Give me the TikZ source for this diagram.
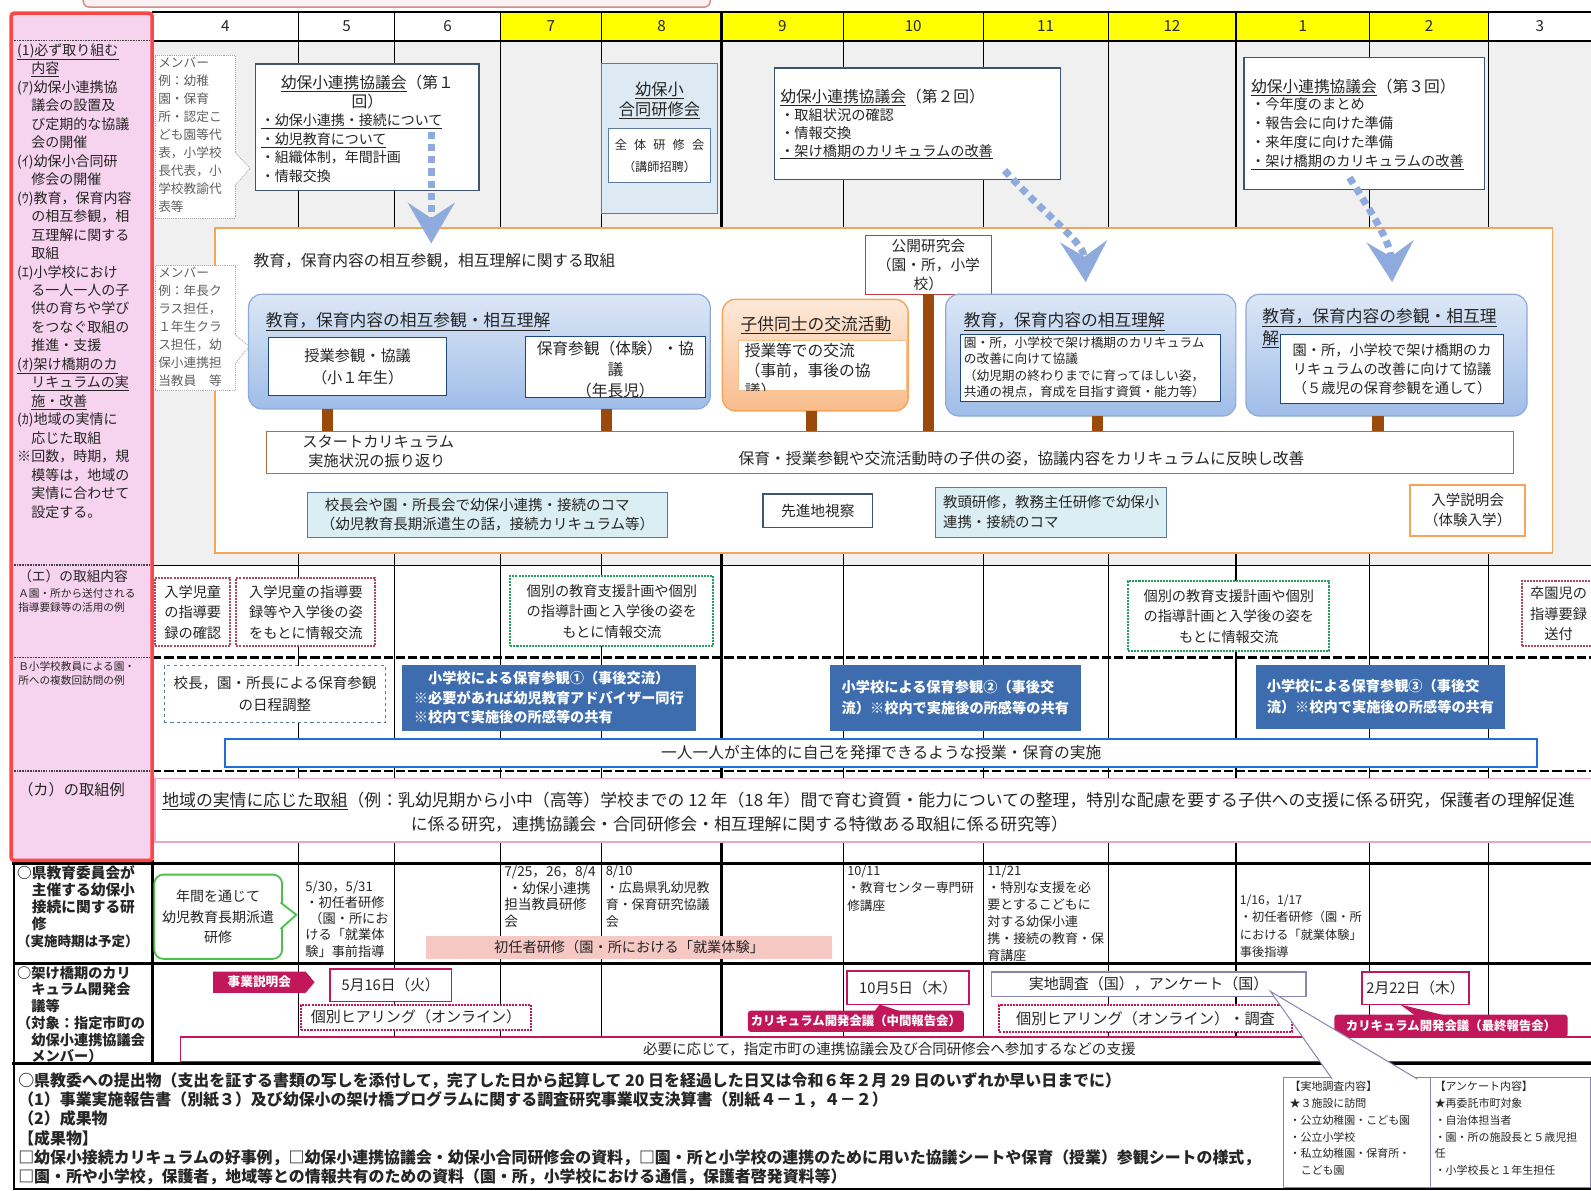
\documentclass[tikz,border=0pt]{standalone}
\usepackage{fontspec}
\setmainfont{Noto Sans CJK JP}
\usetikzlibrary{arrows.meta, fit, shapes.symbols}
\newcommand\fsz[2]{\fontsize{#1}{#2}\selectfont}
\definecolor{ink}{HTML}{262626}
\definecolor{cellgrey}{HTML}{F0F0F0}
\definecolor{headyel}{HTML}{FFFF00}
\definecolor{frame}{HTML}{FF4545}
\definecolor{lcol}{HTML}{F6D3EF}
\definecolor{slate}{HTML}{3E5572}
\definecolor{arrowblue}{HTML}{8FAADC}
\definecolor{orng}{HTML}{F5A55A}
\definecolor{bluetop}{HTML}{DCE7F6}
\definecolor{bluebot}{HTML}{9FBDE8}
\definecolor{blueline}{HTML}{8EAADB}
\definecolor{navy}{HTML}{1F497D}
\definecolor{peachtop}{HTML}{FDE9D9}
\definecolor{peachbot}{HTML}{F9BC8C}
\definecolor{barbrown}{HTML}{9C4A0C}
\definecolor{paleblue}{HTML}{DBEEF4}
\definecolor{gokanfill}{HTML}{DDE9F3}
\definecolor{steel}{HTML}{5B7A9C}
\definecolor{dotred}{HTML}{B04A5A}
\definecolor{dotgreen}{HTML}{22A05A}
\definecolor{deepblue}{HTML}{3D6DAE}
\definecolor{brightblue}{HTML}{1C6FDC}
\definecolor{pinkline}{HTML}{E8A6CB}
\definecolor{mag}{HTML}{C2185B}
\definecolor{salmon}{HTML}{F6C8C4}
\definecolor{callgreen}{HTML}{4CC24C}
\definecolor{lilac}{HTML}{8A84B0}
\definecolor{toppink}{HTML}{D98A8A}

\begin{document}
\begin{tikzpicture}[x=1pt, y=-1pt,
  every node/.append style={text=ink},
  cell/.style={inner sep=0pt, outer sep=0pt},
  txt/.style={cell},
  boxtext/.style={cell, align=center},
  memb/.style={cell, draw=gray!65, densely dotted, line width=0.9pt, fill=white},
  kbox/.style={cell, draw=slate, line width=1.3pt, fill=white},
  rbox/.style={cell, rounded corners=13pt, draw=blueline, line width=1.2pt,
               top color=bluetop, bottom color=bluebot},
  ibox/.style={cell, draw=navy, line width=1.1pt, fill=white},
  pbox/.style={cell, draw=steel, line width=0.9pt, fill=paleblue},
  redot/.style={cell, draw=dotred, densely dotted, line width=2pt, fill=white},
  grdot/.style={cell, draw=dotgreen, densely dotted, line width=2pt, fill=white},
  dbox/.style={cell, fill=deepblue},
  dtext/.style={cell, align=left, text=white, font=\bfseries\fsz{14}{20}},
  magbox/.style={cell, draw=mag, line width=1.8pt, fill=white},
  magdot/.style={cell, draw=mag, densely dotted, line width=2pt, fill=white},
  tagbox/.style={cell, fill=mag, rounded corners=3pt},
  tagtext/.style={cell, text=white, font=\bfseries\fsz{12.2}{14}},
  barline/.style={draw=barbrown, line width=11pt},
  sepline/.style={line width=2.6pt, dash pattern=on 9pt off 3pt},
  dotarrow/.style={draw=arrowblue, line width=7pt, dash pattern=on 7pt off 5pt,
                   -{Stealth[width=46pt, length=40pt, inset=15pt]}}
]
\useasboundingbox (0,0) rectangle (1568,1173);
\fill[white] (0,0) rectangle (1568,1173);
\filldraw[fill=toppink!12, draw=toppink, line width=1.5pt, rounded corners=6pt] (82,-20) rectangle (700,7);

\foreach \xa/\xb/\m/\hc in {150/294/4/white, 294/389/5/white, 389/493/6/white,
  493/593/7/headyel, 593/711/8/headyel, 711/831/9/headyel, 831/969/10/headyel,
  969/1092/11/headyel, 1092/1218/12/headyel, 1218/1350/1/headyel,
  1350/1467/2/headyel, 1467/1568/3/white}{
  \fill[cellgrey] (\xa,40) rectangle (\xb,557);
  \fill[\hc] (\xa,12) rectangle (\xb,40);
  \node[txt, font=\fsz{15}{18}] (m\m) at ({(\xa+\xb)/2},26) {\m};
  \draw[line width=1pt] (\xa,12) -- (\xa,1048);
}
\draw[line width=2.6pt] (711,12) -- (711,1048);
\draw[line width=2.6pt] (1218,12) -- (1218,1048);
\draw[line width=1.6pt] (150,12) -- (1568,12);
\draw[line width=2pt] (150,40) -- (1568,40);
\draw[line width=0.8pt] (150,557) -- (1568,557);
\draw[sepline] (150,648) -- (1568,648);
\draw[sepline] (150,760) -- (1568,760);
\draw[line width=3.5pt] (12,851) -- (1568,851);
\draw[line width=3pt] (14,950) -- (1568,950);
\draw[line width=3.5pt] (12,1048) -- (1568,1048);
\draw[line width=2pt] (14,848) -- (14,1172) -- (1568,1172);
\draw[line width=3pt] (150,848) -- (150,1048);

% left column
\filldraw[fill=lcol, draw=frame, line width=3.5pt, rounded corners=3pt] (11,13) rectangle (150,848);
\foreach \ys in {40,557,648,760}
  \draw[densely dotted, line width=1.6pt, black!75] (14,\ys) -- (148,\ys);
\node[txt, anchor=north west, align=left, font=\fsz{13.8}{18.2}] (lcol) at (17,43)
  {\underline{(1)必ず取り組む}\\　\underline{内容}\\(ｱ)幼保小連携協\\　議会の設置及\\　び定期的な協議\\　会の開催\\(ｲ)幼保小合同研\\　修会の開催\\(ｳ)教育，保育内容\\　の相互参観，相\\　互理解に関する\\　取組\\(ｴ)小学校におけ\\　る一人一人の子\\　供の育ちや学び\\　をつなぐ取組の\\　推進・支援\\\underline{(ｵ)架け橋期のカ}\\　\underline{リキュラムの実}\\　\underline{施・改善}\\(ｶ)地域の実情に\\　応じた取組\\※回数，時期，規\\　模等は，地域の\\　実情に合わせて\\　設定する。};
\node[txt, anchor=west, font=\fsz{13.5}{16}] (labE) at (18,568) {（エ）の取組内容};
\node[txt, anchor=north west, align=left, font=\fsz{10.5}{14}] (labE2) at (18,580) {Ａ園・所から送付される\\指導要録等の活用の例};
\node[txt, anchor=north west, align=left, font=\fsz{10.5}{14}] (labB) at (18,652) {Ｂ小学校教員による園・\\所への複数回訪問の例};
\node[txt, anchor=west, font=\fsz{15}{18}] (labF) at (18,778) {（カ）の取組例};

% top area
\node[cell, draw=orng, line width=1.8pt, fill=white, fit={(212,225) (1530,545)}] (obox) {};
\node[txt, anchor=west, font=\fsz{15.5}{19}] (oboxt) at (250,257) {教育，保育内容の相互参観，相互理解に関する取組};

\node[memb, fit={(153,55) (232,215)}] (mem1) {};
\filldraw[memb] ([shift={(-0.5,15)}]mem1.east) -- ++(15,16) -- ([shift={(-0.5,48)}]mem1.east);
\node[txt, anchor=north west, align=left, font=\fsz{12.5}{17.8}, text=gray!75!black] (mem1t) at (156,56)
  {メンバー\\例：幼稚\\園・保育\\所・認定こ\\ども園等代\\表，小学校\\長代表，小\\学校教諭代\\表等};
\node[memb, fit={(153,262) (232,385)}] (mem2) {};
\filldraw[memb] ([shift={(-0.5,6)}]mem2.east) -- ++(14,12) -- ([shift={(-0.5,35)}]mem2.east);
\node[txt, anchor=north west, align=left, font=\fsz{12.5}{17.8}, text=gray!75!black] (mem2t) at (156,263)
  {メンバー\\例：年長ク\\ラス担任，\\１年生クラ\\ス担任，幼\\保小連携担\\当教員　等};

\node[kbox, fit={(252,63) (472,188)}] (kyo1) {};
\node[txt, align=center, font=\fsz{15.5}{19}] (kyo1a) at (362,91) {\underline{幼保小連携協議会}（第１\\回）};
\node[txt, anchor=north west, align=left, font=\fsz{13.8}{18.5}] (kyo1b) at (257,112)
  {\underline{・幼保小連携・接続について}\\\underline{・幼児教育について}\\・組織体制，年間計画\\・情報交換};

\node[cell, draw=steel, line width=1pt, fill=gokanfill, fit={(593,63) (707,210)}] (gokan) {};
\node[txt, align=center, font=\fsz{16}{20}] (gokant) at (650,99) {\underline{幼保小}\\\underline{合同研修会}};
\node[cell, draw=steel, line width=1.1pt, fill=white, fit={(600,127) (700,180)}] (gokani) {};
\node[boxtext, font=\fsz{12}{22}] (gokanit) at (gokani)
  {全\hspace{7pt}体\hspace{7pt}研\hspace{7pt}修\hspace{7pt}会\\（講師招聘）};

\node[kbox, fit={(763,67) (1045,177)}] (kyo2) {};
\node[txt, anchor=west, font=\fsz{15.5}{19}] (kyo2a) at (769,96) {\underline{幼保小連携協議会}（第２回）};
\node[txt, anchor=north west, align=left, font=\fsz{14}{17.5}] (kyo2b) at (769,107)
  {・取組状況の確認\\・情報交換\\\underline{・架け橋期のカリキュラムの改善}};

\node[kbox, fit={(1226,57) (1463,187)}] (kyo3) {};
\node[txt, anchor=west, font=\fsz{15.5}{19}] (kyo3a) at (1233,86) {\underline{幼保小連携協議会}（第３回）};
\node[txt, anchor=north west, align=left, font=\fsz{14}{18.7}] (kyo3b) at (1233,96)
  {・今年度のまとめ\\・報告会に向けた準備\\・来年度に向けた準備\\\underline{・架け橋期のカリキュラムの改善}};

\node[cell, draw=dotred!80!red, line width=1pt, fill=white, fit={(853,232) (977,290)}] (koukai) {};
\node[boxtext, font=\fsz{14.5}{18.5}] (koukait) at (koukai) {公開研究会\\（園・所，小学\\校）};

\node[rbox, fit={(245,290) (700,403)}] (kou1) {};
\node[txt, anchor=west, font=\fsz{16.5}{20}] (kou1t) at (262,317) {\underline{教育，保育内容の相互参観・相互理解}};
\node[ibox, fit={(265,333) (440,390)}] (ib1) {};
\node[boxtext, font=\fsz{15}{21}] (ib1t) at (ib1) {授業参観・協議\\（小１年生）};
\node[ibox, fit={(518,332) (695,392)}] (ib2) {};
\node[boxtext, font=\fsz{15.5}{20.5}] (ib2t) at ([shift={(0,2)}]ib2.center) {保育参観（体験）・協\\議\\（年長児）};

\node[cell, rounded corners=13pt, draw=orng, line width=1.4pt, top color=peachtop, bottom color=peachbot,
      fit={(712,295) (895,405)}] (kou2) {};
\node[txt, anchor=west, font=\fsz{16.5}{20}] (kou2t) at (730,320) {\underline{子供同士の交流活動}};
\node[cell, draw=orng!70, line width=0.8pt, fill=white, fit={(728,335) (893,385)}] (ib3) {};
\begin{scope}
  \clip (728,335) rectangle (893,385);
  \node[txt, anchor=north west, align=left, font=\fsz{15.5}{20}] (ib3t) at (734,338) {授業等での交流\\（事前，事後の協\\議）};
\end{scope}

\node[rbox, fit={(932,290) (1218,410)}] (kou3) {};
\node[txt, anchor=west, font=\fsz{16.5}{20}] (kou3t) at (950,317) {\underline{教育，保育内容の相互理解}};
\node[ibox, fit={(947,330) (1203,396)}] (ib4) {};
\node[txt, anchor=north west, align=left, font=\fsz{12.5}{16}] (ib4t) at (950,332)
  {園・所，小学校で架け橋期のカリキュラム\\の改善に向けて協議\\（幼児期の終わりまでに育ってほしい姿，\\共通の視点，育成を目指す資質・能力等）};

\node[rbox, fit={(1228,290) (1505,410)}] (kou4) {};
\node[txt, anchor=north west, align=left, font=\fsz{16.5}{22}] (kou4t) at (1244,304)
  {\underline{教育，保育内容の参観・相互理}\\\underline{解}};
\node[ibox, fit={(1262,330) (1482,398)}] (ib5) {};
\node[boxtext, font=\fsz{14}{18.5}] (ib5t) at (ib5)
  {園・所，小学校で架け橋期のカ\\リキュラムの改善に向けて協議\\（５歳児の保育参観を通して）};

\node[cell, draw=barbrown!80, line width=1pt, fill=white, fit={(263,425) (1492,467)}] (longbar) {};
\node[txt, anchor=north west, align=left, font=\fsz{15}{19}] (lbt1) at (298,429) {スタートカリキュラム\\\hspace*{6pt}実施状況の振り返り};
\node[txt, anchor=west, font=\fsz{15.5}{19}] (lbt2) at (728,452) {保育・授業参観や交流活動時の子供の姿，協議内容をカリキュラムに反映し改善};

\coordinate (b1) at (323,0);
\coordinate (b2) at (598,0);
\coordinate (b3) at (800,0);
\coordinate (b4) at (1082,0);
\coordinate (b5) at (1358,0);
\draw[barline] (kou1.south -| b1) -- (longbar.north -| b1);
\draw[barline] (kou1.south -| b2) -- (longbar.north -| b2);
\draw[barline] (kou2.south -| b3) -- (longbar.north -| b3);
\draw[barline] (koukai.south) -- (longbar.north -| koukai.south);
\draw[barline] (kou3.south -| b4) -- (longbar.north -| b4);
\draw[barline] (kou4.south -| b5) -- (longbar.north -| b5);

\node[pbox, fit={(303,485) (658,530)}] (lb1) {};
\node[boxtext, align=left, font=\fsz{14.3}{19}] (lb1t) at (lb1)
  {\hspace*{4pt}校長会や園・所長会で幼保小連携・接続のコマ\\（幼児教育長期派遣生の話，接続カリキュラム等）};
\node[cell, draw=slate, line width=1.6pt, fill=white, fit={(752,487) (860,520)}] (sensin) {};
\node[boxtext, font=\fsz{14.5}{18}] (sensint) at (sensin) {先進地視察};
\node[pbox, fit={(922,480) (1150,530)}] (lb2) {};
\node[boxtext, align=left, font=\fsz{14.2}{19.5}] (lb2t) at (lb2) {教頭研修，教務主任研修で幼保小\\連携・接続のコマ};
\node[cell, draw=orng, line width=1.8pt, fill=white, fit={(1390,478) (1503,528)}] (nyugaku) {};
\node[boxtext, font=\fsz{14.3}{20}] (nyugakut) at (nyugaku) {入学説明会\\（体験入学）};

\coordinate (a1s) at (425,130);
\coordinate (a1e) at (425,240);
\coordinate (a2s) at (990,168);
\coordinate (a2e) at (1070,278);
\coordinate (a3s) at (1330,175);
\coordinate (a3e) at (1372,278);
\draw[dotarrow] (a1s) -- (a1e);
\draw[dotarrow] (a2s) .. controls (1040,222) and (1068,238) .. (a2e);
\draw[dotarrow] (a3s) .. controls (1355,215) and (1370,238) .. (a3e);

% row (e)
\node[redot, fit={(153,570) (227,637)}] (e1) {};
\node[boxtext, font=\fsz{14}{20}] (e1t) at (e1) {入学児童\\の指導要\\録の確認};
\node[redot, fit={(233,570) (370,637)}] (e2) {};
\node[boxtext, font=\fsz{14}{20}] (e2t) at (e2) {入学児童の指導要\\録等や入学後の姿\\をもとに情報交流};
\node[grdot, fit={(503,568) (703,637)}] (e3) {};
\node[boxtext, font=\fsz{14}{20}] (e3t) at (e3) {個別の教育支援計画や個別\\の指導計画と入学後の姿を\\もとに情報交流};
\node[grdot, fit={(1112,573) (1310,642)}] (e4) {};
\node[boxtext, font=\fsz{14}{20}] (e4t) at (e4) {個別の教育支援計画や個別\\の指導計画と入学後の姿を\\もとに情報交流};
\node[redot, fit={(1500,573) (1572,637)}] (e5) {};
\node[boxtext, font=\fsz{14}{20}] (e5t) at (e5) {卒園児の\\指導要録\\送付};

% row B
\node[cell, draw=steel, dashed, line width=0.9pt, fill=white, fit={(162,656) (380,712)}] (ii1) {};
\node[boxtext, font=\fsz{14.3}{21}] (ii1t) at (ii1) {校長，園・所長による保育参観\\の日程調整};
\node[dbox, fit={(396,655) (686,720)}] (ii2) {};
\node[dtext, font=\bfseries\fsz{14}{19}] (ii2t) at (ii2)
  {\hspace*{14pt}小学校による保育参観①（事後交流）\\※必要があれば幼児教育アドバイザー同行\\※校内で実施後の所感等の共有};
\node[dbox, fit={(818,655) (1065,720)}] (ii3) {};
\node[dtext, font=\bfseries\fsz{14}{21}] (ii3t) at (ii3) {小学校による保育参観②（事後交\\流）※校内で実施後の所感等の共有};
\node[dbox, fit={(1238,655) (1483,718)}] (ii4) {};
\node[dtext, font=\bfseries\fsz{14}{21}] (ii4t) at (ii4) {小学校による保育参観③（事後交\\流）※校内で実施後の所感等の共有};
\node[cell, draw=brightblue, line width=2.2pt, fill=white, fit={(222,728) (1515,756)}] (hitori) {};
\node[boxtext, font=\fsz{15.5}{18}] (hitorit) at (hitori) {一人一人が主体的に自己を発揮できるような授業・保育の実施};

% row (ka)
\node[cell, draw=pinkline, line width=1.5pt, fill=white, fit={(153,767) (1575,830)}] (chiiki) {};
\node[txt, anchor=west, font=\fsz{16.6}{20}] (chiiki1) at (160,789)
  {\underline{地域の実情に応じた取組}（例：乳幼児期から小中（高等）学校までの 12 年（18 年）間で育む資質・能力についての整理，特別な配慮を要する子供への支援に係る研究，保護者の理解促進};
\node[txt, anchor=west, font=\fsz{16.6}{20}] (chiiki2) at (405,812)
  {に係る研究，連携協議会・合同研修会・相互理解に関する特徴ある取組に係る研究等）};

% training row
\node[txt, anchor=north west, align=left, font=\bfseries\fsz{14.5}{16.8}] (labK) at (17,853)
  {○県教育委員会が\\　主催する幼保小\\　接続に関する研\\　修\\{\fsz{13.3}{16.8}（実施時期は予定）}};
\node[cell, draw=callgreen, line width=1.8pt, fill=white, rounded corners=9pt, fit={(152,862) (278,945)}] (nenkan) {};
\filldraw[draw=callgreen, line width=1.8pt, fill=white] ([shift={(-1.5,-14)}]nenkan.east) -- ++(15.5,12) -- ([shift={(-1.5,12)}]nenkan.east);
\node[boxtext, font=\fsz{13.8}{20}] (nenkant) at (nenkan) {年間を通じて\\幼児教育長期派遣\\研修};
\node[cell, fill=salmon, fit={(420,922) (820,945)}] (shonin) {};
\node[boxtext, font=\fsz{14}{18}] (shonint) at (shonin) {初任者研修（園・所における「就業体験」};
\node[txt, anchor=north west, align=left, font=\fsz{13}{16}] (c5) at (301,868)
  {5/30，5/31\\・初任者研修\\\hspace*{4pt}（園・所にお\\ける「就業体\\験」事前指導};
\node[txt, anchor=north west, align=left, font=\fsz{13.5}{16.5}] (c7) at (497,853)
  {7/25，26，8/4\\\hspace*{4pt}・幼保小連携\\担当教員研修\\会};
\node[txt, anchor=north west, align=left, font=\fsz{12.8}{16.5}] (c8) at (597,853)
  {8/10\\・広島県乳幼児教\\育・保育研究協議\\会};
\node[txt, anchor=north west, align=left, font=\fsz{12.5}{17}] (c10) at (835,853)
  {10/11\\・教育センター専門研\\修講座};
\node[txt, anchor=north west, align=left, font=\fsz{12.8}{16.6}] (c11) at (973,853)
  {11/21\\・特別な支援を必\\要とするこどもに\\対する幼保小連\\携・接続の教育・保\\育講座};
\node[txt, anchor=north west, align=left, font=\fsz{12}{17}] (c1) at (1222,882)
  {1/16，1/17\\・初任者研修（園・所\\における「就業体験」\\事後指導};

% bridge curriculum row
\node[txt, anchor=north west, align=left, font=\bfseries\fsz{14}{16.5}] (labL) at (17,952)
  {○架け橋期のカリ\\　キュラム開発会\\　議等\\（対象：指定市町の\\　幼保小連携協議会\\　メンバー）};
\node[cell, shape=signal, signal to=east, signal pointer angle=100, fill=mag, minimum width=100, minimum height=21,
      text=white, font=\bfseries\fsz{12.5}{14}, anchor=west] (tag1) at (210,968) {事業説明会};
\node[magbox, fit={(325,955) (445,987)}] (d516) {};
\node[boxtext, font=\fsz{14.5}{18}] (d516t) at (d516) {5月16日（火）};
\node[magdot, fit={(297,990) (523,1015)}] (hear1) {};
\node[boxtext, font=\fsz{14.8}{18}] (hear1t) at (hear1) {個別ヒアリング（オンライン）};
\node[magbox, fit={(835,957) (955,990)}] (d105) {};
\node[boxtext, font=\fsz{14.5}{18}] (d105t) at (d105) {10月5日（木）};
\node[cell, draw=lilac, line width=1.2pt, fill=white, fit={(977,958) (1287,982)}] (jitchi) {};
\node[boxtext, font=\fsz{14.8}{18}] (jitchit) at (jitchi) {実地調査（国），アンケート（国）};
\node[magdot, fit={(985,990) (1273,1017)}] (hear2) {};
\node[boxtext, font=\fsz{15}{18}] (hear2t) at (hear2) {個別ヒアリング（オンライン）・調査};
\node[magbox, fit={(1342,958) (1448,990)}] (d222) {};
\node[boxtext, font=\fsz{14.5}{18}] (d222t) at (d222) {2月22日（木）};
\node[cell, draw=mag, line width=1.6pt, fill=white, fit={(178,1022) (1575,1046)}] (shien) {};
\node[boxtext, font=\fsz{14.3}{18}] (shient) at (shien) {必要に応じて，指定市町の連携協議会及び合同研修会へ参加するなどの支援};
\node[tagbox, fit={(737,996) (950,1017)}] (tag2) {};
\fill[mag] ([shift={(18,1)}]tag2.north) -- ([shift={(-28,0)}]d105.south) -- ([shift={(45,1)}]tag2.north) -- cycle;
\node[tagtext] (tag2t) at (tag2) {カリキュラム開発会議（中間報告会）};
\node[tagbox, fit={(1315,1000) (1545,1022)}] (tag3) {};
\fill[mag] ([shift={(-35,1)}]tag3.north) -- ([shift={(-15,0)}]d222.south) -- ([shift={(-5,1)}]tag3.north) -- cycle;
\node[tagtext] (tag3t) at (tag3) {カリキュラム開発会議（最終報告会）};

% survey callout
\node[cell, draw=lilac, line width=1.2pt, fill=white, fit={(1265,1062) (1568,1170)}] (chosa) {};
\coordinate (wtip) at (1252,977);
\coordinate (wb1) at (1313,1063.5);
\coordinate (wb2) at (1397,1063.5);
\fill[white] (wtip) -- (wb1) -- (wb2) -- cycle;
\draw[lilac, line width=1pt] (wb1) -- (wtip) -- (wb2);
\coordinate (cdiv) at (1410,0);
\draw[lilac, line width=1pt] (chosa.north -| cdiv) -- (chosa.south -| cdiv);
\node[txt, anchor=north west, align=left, font=\fsz{10.8}{16.5}] (chosaL) at (1271,1066)
  {【実地調査内容】\\★３施設に訪問\\・公立幼稚園・こども園\\・公立小学校\\・私立幼稚園・保育所・\\\hspace*{11pt}こども園};
\node[txt, anchor=north west, align=left, font=\fsz{10.8}{16.5}] (chosaR) at (1414,1066)
  {【アンケート内容】\\★再委託市町対象\\・自治体担当者\\・園・所の施設長と５歳児担\\任\\・小学校長と１年生担任};

% submissions
\node[txt, anchor=north west, align=left, font=\bfseries\fsz{15.7}{19}] (teishutsu) at (18,1057)
  {○県教委への提出物（支出を証する書類の写しを添付して，完了した日から起算して 20 日を経過した日又は令和６年２月 29 日のいずれか早い日までに）\\（1）事業実施報告書（別紙３）及び幼保小の架け橋プログラムに関する調査研究事業収支決算書（別紙４－１，４－２）\\（2）成果物\\【成果物】\\□幼保小接続カリキュラムの好事例，□幼保小連携協議会・幼保小合同研修会の資料，□園・所と小学校の連携のために用いた協議シートや保育（授業）参観シートの様式，\\□園・所や小学校，保護者，地域等との情報共有のための資料（園・所，小学校における通信，保護者啓発資料等）};
\end{tikzpicture}
\end{document}
